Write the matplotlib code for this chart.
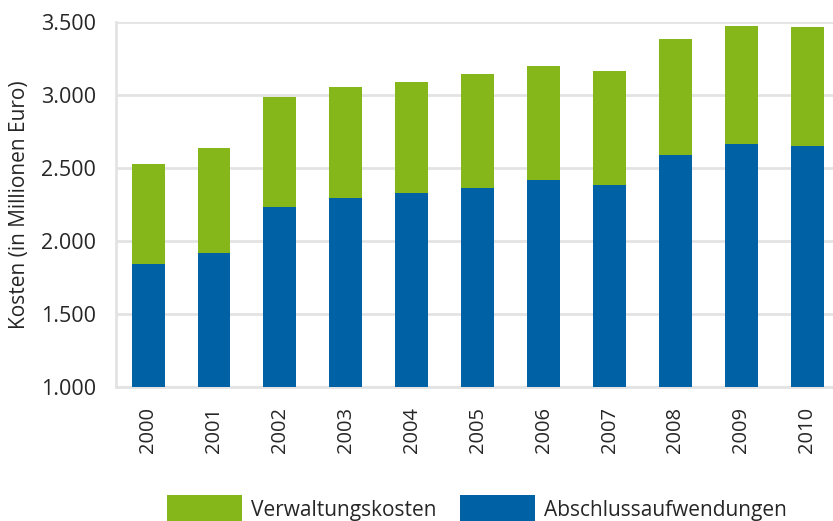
import numpy as np
import matplotlib
matplotlib.use('Agg')
import matplotlib.pyplot as plt
from matplotlib.ticker import FuncFormatter

years = ['2000', '2001', '2002', '2003', '2004', '2005',
         '2006', '2007', '2008', '2009', '2010']
# Abschlussaufwendungen (lower part) and totals
abschluss = [1842, 1918, 2233, 2295, 2329, 2363, 2418, 2384, 2589, 2664, 2651]
gesamt = [2527, 2637, 2986, 3055, 3089, 3144, 3199, 3164, 3384, 3473, 3466]
verwaltung = [g - a for g, a in zip(gesamt, abschluss)]

green = '#86B71A'
blue = '#0061A5'
grid_col = '#e3e3e3'
text_col = '#262626'

plt.rcParams['font.family'] = ['Open Sans', 'DejaVu Sans']

fig = plt.figure(figsize=(8.33, 5.21), dpi=100)
ax = fig.add_axes([0.139, 0.257, 0.861, 0.701])

x = np.arange(len(years))
base = 1000
ax.bar(x, np.array(abschluss) - base, bottom=base, width=0.5,
       color=blue, label='Abschlussaufwendungen', zorder=3)
ax.bar(x, verwaltung, bottom=abschluss, width=0.5,
       color=green, label='Verwaltungskosten', zorder=3)

ax.set_ylim(1000, 3500)
ax.set_xlim(-0.49, 10.39)
ax.set_yticks(np.arange(1000, 3501, 500))
ax.yaxis.set_major_formatter(FuncFormatter(lambda v, p: f'{int(v):,}'.replace(',', '.')))
ax.set_xticks(x)
ax.set_xticklabels(years, rotation=90)
ax.grid(axis='y', color=grid_col, linewidth=2, zorder=0)
ax.tick_params(axis='both', length=0, colors=text_col)
ax.tick_params(axis='x', pad=14, labelsize=14.5)
ax.tick_params(axis='y', pad=14, labelsize=15.5)

for s in ['top', 'right']:
    ax.spines[s].set_visible(False)
for s in ['left', 'bottom']:
    ax.spines[s].set_color(grid_col)
    ax.spines[s].set_linewidth(2)

ax.set_ylabel('Kosten (in Millionen Euro)', fontsize=15, color=text_col)
ax.yaxis.set_label_coords(-0.12, 0.5)

handles, labels = ax.get_legend_handles_labels()
fig.legend(handles[::-1], labels[::-1], loc='upper left',
           bbox_to_anchor=(167 / 833, 1 - 495 / 521), ncol=2, frameon=False,
           fontsize=15, handlelength=3.6, handleheight=1.7,
           handletextpad=0.43, columnspacing=1.14, borderaxespad=0,
           borderpad=0, labelcolor=text_col)

fig.savefig('out.png', dpi=100)
